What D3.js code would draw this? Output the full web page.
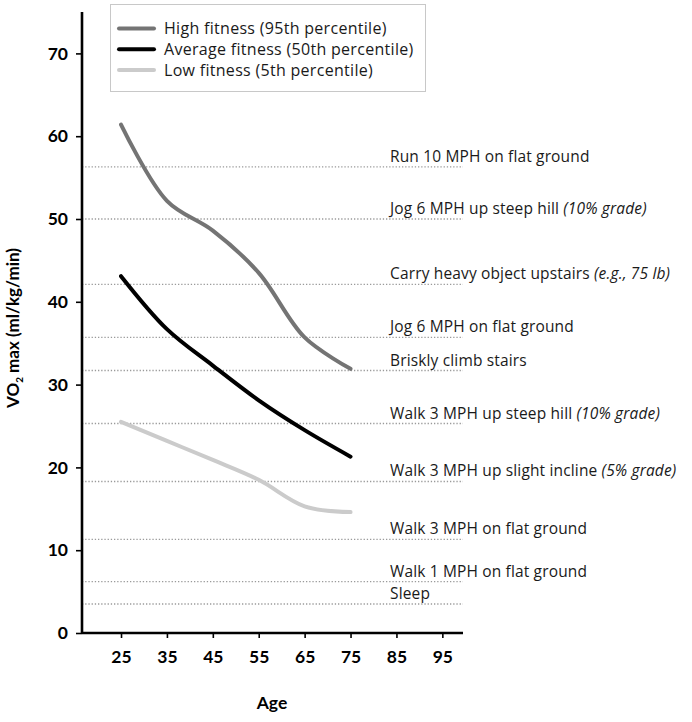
<!DOCTYPE html>
<html>
<head>
<meta charset="utf-8">
<script src="https://cdn.jsdelivr.net/npm/d3@7"></script>
<style>
  body { margin: 0; background: #fff; }
</style>
</head>
<body>
<div class="visHolder"></div>
<script>
// data
const ages = [25, 35, 45, 55, 65, 75];
const highFitness = [61.4, 52.2, 48.6, 43.5, 35.7, 31.9];
const avgFitness = [43.1, 36.7, 32.3, 28.1, 24.5, 21.3];
const lowFitness = [25.5, 23.2, 20.9, 18.5, 15.3, 14.6];

const seriesNames = ["High fitness (95th percentile)", "Average fitness (50th percentile)", "Low fitness (5th percentile)"];
const seriesColors = ["#747474", "#000000", "#cbcbcb"];

// activity reference levels
const activityValues = [56.3, 50, 42.1, 35.7, 31.7, 25.3, 18.3, 11.3, 6.2, 3.5];
const activityLabels = ["Run 10 MPH on flat ground", "Jog 6 MPH up steep hill", "Carry heavy object upstairs",
  "Jog 6 MPH on flat ground", "Briskly climb stairs", "Walk 3 MPH up steep hill", "Walk 3 MPH up slight incline",
  "Walk 3 MPH on flat ground", "Walk 1 MPH on flat ground", "Sleep"];
const activityNotes = ["", "(10% grade)", "(e.g., 75 lb)", "", "", "(10% grade)", "(5% grade)", "", "", ""];

const xTicks = [25, 35, 45, 55, 65, 75, 85, 95];
const yTicks = [0, 10, 20, 30, 40, 50, 60, 70];

const width = 692, height = 722;
const bodyFont = "'Open Sans', sans-serif";
const boldFont = "Lato, sans-serif";

const svg = d3.select(".visHolder")
  .append("svg")
    .attr("width", width)
    .attr("height", height);

const x = d3.scaleLinear().domain([16.5, 99.5]).range([82, 463]);
const y = d3.scaleLinear().domain([0, 75]).range([633, 12]);

// dotted activity lines + labels
svg.append("g")
  .selectAll("line")
  .data(activityValues)
  .enter()
  .append("line")
    .attr("x1", x(16.5))
    .attr("x2", x(99.5))
    .attr("y1", d => y(d))
    .attr("y2", d => y(d))
    .attr("stroke", "#9a9a9a")
    .attr("stroke-width", 1.3)
    .attr("stroke-dasharray", "1.3 1.9");

const labels = svg.append("g")
  .selectAll("text")
  .data(activityValues)
  .enter()
  .append("text")
    .attr("x", 390)
    .attr("y", d => y(d) - 5)
    .style("font-family", bodyFont)
    .style("font-size", "15.5px")
    .style("letter-spacing", "0.15px")
    .attr("fill", "#1a1a1a");
labels.append("tspan").text((d, i) => activityLabels[i]);
labels.append("tspan")
  .style("font-style", "italic")
  .text((d, i) => activityNotes[i] ? " " + activityNotes[i] : "");

// lines
const line = d3.line()
  .x(d => x(d[0]))
  .y(d => y(d[1]))
  .curve(d3.curveCatmullRom.alpha(0.5));

const allSeries = [highFitness, avgFitness, lowFitness];
svg.append("g")
  .selectAll("path")
  .data(allSeries)
  .enter()
  .append("path")
    .attr("d", s => line(ages.map((a, i) => [a, s[i]])))
    .attr("fill", "none")
    .attr("stroke", (d, i) => seriesColors[i])
    .attr("stroke-width", 4)
    .attr("stroke-linecap", "round");

// axes
const yAxis = svg.append("g")
  .attr("transform", "translate(82,0)")
  .call(d3.axisLeft(y).tickValues(yTicks).tickSize(6).tickPadding(8).tickFormat(d3.format("d")));
const xAxis = svg.append("g")
  .attr("transform", "translate(0,633)")
  .call(d3.axisBottom(x).tickValues(xTicks).tickSize(5).tickPadding(13).tickFormat(d3.format("d")));

[xAxis, yAxis].forEach(a => {
  a.select(".domain").attr("stroke", "#000").attr("stroke-width", 2.6);
  a.selectAll(".tick line").attr("stroke", "#000").attr("stroke-width", 1.6);
  a.selectAll(".tick text")
    .style("font-family", boldFont)
    .style("font-size", "17.5px")
    .style("font-weight", 700)
    .attr("fill", "#000");
});
yAxis.select(".domain").attr("d", "M0,12V633");
xAxis.select(".domain").attr("d", "M82,0H463");

// axis titles
svg.append("text")
  .attr("x", 272)
  .attr("y", 709)
  .attr("text-anchor", "middle")
  .style("font-family", boldFont)
  .style("font-size", "17.5px")
  .style("font-weight", 700)
  .text("Age");

const yTitle = svg.append("text")
  .attr("transform", "translate(19,328) rotate(-90)")
  .attr("text-anchor", "middle")
  .style("font-family", boldFont)
  .style("font-size", "17px")
  .style("font-weight", 700);
yTitle.append("tspan").text("VO");
yTitle.append("tspan").style("font-size", "10px").attr("dy", 4).text("2");
yTitle.append("tspan").attr("dy", -4).text(" max (ml/kg/min)");

// legend
const legend = svg.append("g");
legend.append("rect")
  .attr("x", 110.5)
  .attr("y", 4.5)
  .attr("width", 315)
  .attr("height", 87)
  .attr("fill", "#fff")
  .attr("stroke", "#c8c8c8")
  .attr("stroke-width", 1);

const items = legend.selectAll("g.item")
  .data(seriesNames)
  .enter()
  .append("g")
    .attr("class", "item")
    .attr("transform", (d, i) => "translate(0," + (28.5 + i * 20.8) + ")");
items.append("line")
  .attr("x1", 119)
  .attr("x2", 154)
  .attr("stroke", (d, i) => seriesColors[i])
  .attr("stroke-width", 4)
  .attr("stroke-linecap", "round");
items.append("text")
  .attr("x", 164)
  .attr("dy", "0.35em")
  .style("font-family", bodyFont)
  .style("font-size", "16px")
  .style("letter-spacing", "0.3px")
  .attr("fill", "#1a1a1a")
  .text(d => d);
</script>
</body>
</html>
